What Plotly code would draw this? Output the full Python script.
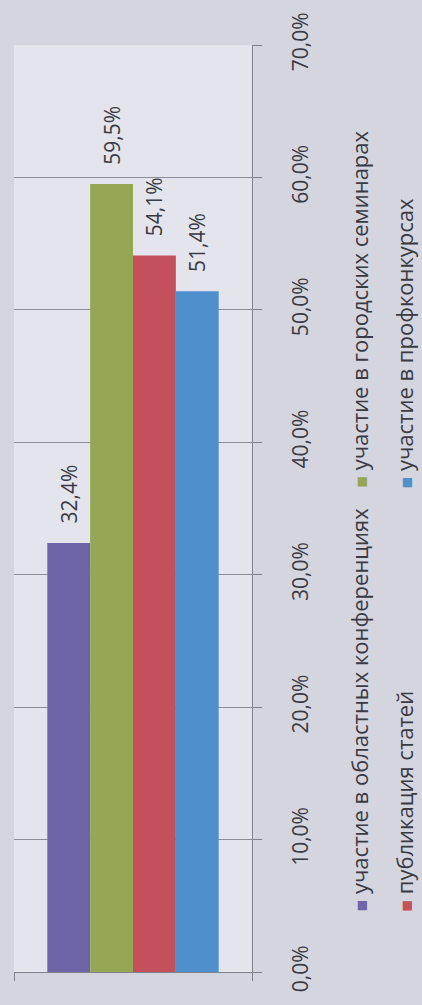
import plotly.graph_objects as go

# data
category = ["Участие педагогов"]
series_names = [
    "участие в областных конференциях",
    "участие в городских семинарах",
    "публикация статей",
    "участие в профконкурсах",
]
series_values = [0.324, 0.595, 0.541, 0.514]
series_colors = ["#6e64a8", "#95a655", "#c4505c", "#4f8fcc"]
tick_values = [0, 0.1, 0.2, 0.3, 0.4, 0.5, 0.6, 0.7]

FONT = "Open Sans"
TEXT_COLOR = "#3a3a44"

fig = go.Figure()
for name, val, color in zip(series_names, series_values, series_colors):
    fig.add_trace(go.Bar(
        x=category,
        y=[val],
        name=name,
        marker=dict(color=color, line=dict(width=0)),
        texttemplate="\u00a0\u00a0\u00a0%{y:.1%}",
        textposition="outside",
        textangle=-90,
        constraintext="none",
        textfont=dict(family=FONT, size=21, color=TEXT_COLOR),
        cliponaxis=False,
    ))

# legend drawn as rotated annotations (two columns, text reading bottom-to-top)
legend_pos = [(1.45, 0.063), (1.45, 0.52), (1.64, 0.063), (1.64, 0.52)]
for (lx, ly), name, color in zip(legend_pos, series_names, series_colors):
    fig.add_annotation(
        x=lx, y=ly, xref="paper", yref="paper",
        xanchor="center", yanchor="bottom",
        text=f"<span style='color:{color};font-size:19px'>■</span> {name}",
        textangle=-90, showarrow=False,
        font=dict(family=FONT, size=22, color=TEXT_COLOR),
    )

fig.update_layout(
    width=422, height=1005,
    margin=dict(l=14, r=170, t=40, b=33),
    paper_bgcolor="#d5d5e0",
    plot_bgcolor="#e3e4ec",
    barmode="group",
    bargap=0.28,
    bargroupgap=0,
    showlegend=False,
    separators=", ",
    xaxis=dict(
        showticklabels=False,
        tickson="boundaries",
        ticks="outside", ticklen=8, tickcolor="#7d818c",
        showline=True, linecolor="#7d818c", linewidth=1,
        range=[-0.5, 0.5],
    ),
    yaxis=dict(
        side="right",
        range=[0, 0.7],
        tickvals=tick_values,
        tickformat=".1%",
        tickangle=-90,
        ticks="outside", ticklen=9, tickcolor="#7d818c",
        ticklabelstandoff=21,
        showline=True, linecolor="#7d818c", linewidth=1,
        showgrid=True, gridcolor="#8a8e98", gridwidth=1,
        zeroline=False,
        tickfont=dict(family=FONT, size=21, color=TEXT_COLOR),
    ),
)

fig.write_html(
    "out.html",
    config={"displayModeBar": False},
    post_script="document.body.style.margin='0';document.body.style.overflow='hidden';",
)
